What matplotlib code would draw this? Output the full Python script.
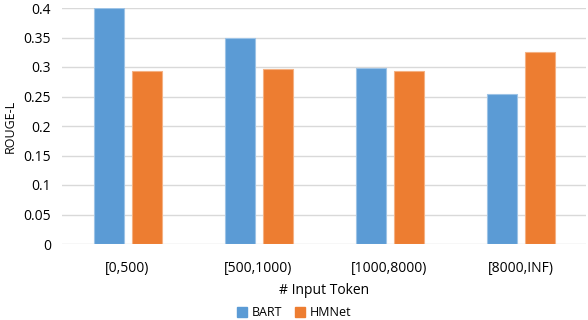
import numpy as np
import matplotlib.pyplot as plt
from matplotlib.patches import Patch

categories = ['[0,500)', '[500,1000)', '[1000,8000)', '[8000,INF)']
bart = [0.400, 0.349, 0.298, 0.255]
hmnet = [0.293, 0.297, 0.294, 0.325]
yticks = [0, 0.05, 0.1, 0.15, 0.2, 0.25, 0.3, 0.35, 0.4]

plt.rcParams['font.family'] = ['Open Sans', 'DejaVu Sans']

fig = plt.figure(figsize=(5.88, 3.2), dpi=100)
ax = fig.add_axes([62/588, 1-244/320, 524/588, 236/320])

x = np.arange(len(categories))
w = 0.225
ax.bar(x - 0.143, bart, w, color='#5B9BD5', edgecolor='#9DC3E6', linewidth=0.8, zorder=3)
ax.bar(x + 0.148, hmnet, w, color='#ED7D31', edgecolor='#F4B183', linewidth=0.8, zorder=3)

ax.set_xlim(-0.5, 3.5)
ax.set_ylim(0, 0.4)
ax.set_yticks(yticks)
ax.set_yticklabels(['0', '0.05', '0.1', '0.15', '0.2', '0.25', '0.3', '0.35', '0.4'])
ax.set_xticks(x)
ax.set_xticklabels(categories)
ax.tick_params(length=0, labelsize=10, colors='#000000', pad=8)
ax.tick_params(axis='x', pad=12)
ax.grid(axis='y', color='#D9D9D9', linewidth=1, zorder=0)
for s in ax.spines.values():
    s.set_visible(False)

ax.set_xlabel('# Input Token', fontsize=10, labelpad=5)
ax.set_ylabel('ROUGE-L', fontsize=9, labelpad=5)

handles = [Patch(color='#5B9BD5'), Patch(color='#ED7D31')]
fig.legend(handles, ['BART', 'HMNet'], loc='center', bbox_to_anchor=(0.5, 1-313/320),
           ncol=2, frameon=False, fontsize=9, handlelength=0.8, handleheight=0.8,
           handletextpad=0.4, columnspacing=1.0)

fig.savefig('out.png', dpi=100)
